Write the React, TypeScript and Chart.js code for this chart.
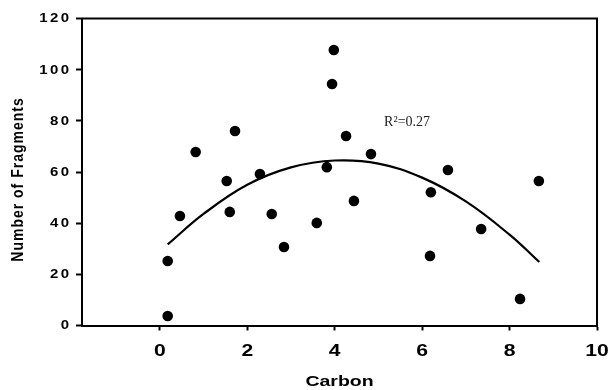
import React, { useEffect, useRef } from "react";
import { Chart, registerables } from "chart.js";

Chart.register(...registerables);

// Observed points (Carbon vs Number of Fragments)
const carbonValues = [0.18, 0.18, 0.46, 0.82, 1.53, 1.6, 1.72, 2.29, 2.56, 2.84, 3.59, 3.82, 3.94, 3.98, 4.26, 4.44, 4.83, 6.2, 6.18, 6.59, 7.35, 8.24, 8.67];
const fragmentValues = [3.7, 25.2, 42.8, 67.8, 56.5, 44.4, 76.0, 59.2, 43.6, 30.7, 40.1, 61.9, 94.4, 107.7, 74.1, 48.7, 67.0, 52.1, 27.2, 60.8, 37.7, 10.4, 56.5];

// Trend curve
const curveX = [0.18, 1, 2, 3, 4, 5, 6, 7, 8, 8.68];
const curveY = [31.7, 43.6, 55.0, 61.8, 64.5, 63.3, 57.8, 48.5, 35.5, 24.8];

const xTicks = [0, 2, 4, 6, 8, 10];
const yTicks = [0, 20, 40, 60, 80, 100, 120];

const xTitle = "Carbon";
const yTitle = "Number of Fragments";
const annotationText = "R\u00B2=0.27";
const annotationPos = { x: 5.13, y: 78 };

const SANS = "'Liberation Sans', Arial, sans-serif";
const SERIF = "'Liberation Serif', 'Times New Roman', serif";

export default function App() {
  const ref = useRef<HTMLCanvasElement | null>(null);

  useEffect(() => {
    if (!ref.current) return;

    const textPlugin = {
      id: "texts",
      afterDraw(chart: any) {
        const ctx = chart.ctx;
        const xs = chart.scales.x;
        const ys = chart.scales.y;
        const { left, top, right, bottom } = chart.chartArea;
        ctx.save();
        ctx.strokeStyle = "#000";
        ctx.lineWidth = 2;
        ctx.beginPath();
        ctx.moveTo(left - 1, top);
        ctx.lineTo(right, top);
        ctx.lineTo(right, bottom);
        ctx.stroke();

        ctx.fillStyle = "#000";

        // x tick labels
        ctx.font = `bold 16px ${SANS}`;
        ctx.textAlign = "center";
        ctx.textBaseline = "middle";
        xTicks.forEach((v) => {
          ctx.save();
          ctx.translate(xs.getPixelForValue(v), bottom + 26.5);
          ctx.scale(1.32, 1);
          ctx.fillText(String(v), 0, 0);
          ctx.restore();
        });

        // y tick labels
        ctx.font = `bold 12.5px ${SANS}`;
        (ctx as any).letterSpacing = "2px";
        ctx.textAlign = "right";
        ctx.textBaseline = "middle";
        yTicks.forEach((v) => {
          ctx.save();
          ctx.translate(left - 13, ys.getPixelForValue(v) + 0.5);
          ctx.scale(1.2, 1);
          ctx.fillText(String(v), 2, 0);
          ctx.restore();
        });
        (ctx as any).letterSpacing = "0px";

        // x title
        ctx.font = `bold 15px ${SANS}`;
        ctx.textAlign = "center";
        ctx.textBaseline = "middle";
        ctx.save();
        ctx.translate((left + right) / 2, 381.5);
        ctx.scale(1.3, 1);
        ctx.fillText(xTitle, 0, 0);
        ctx.restore();

        // y title
        ctx.save();
        ctx.translate(18, 180);
        ctx.rotate(-Math.PI / 2);
        ctx.scale(1, 1.2);
        ctx.font = `bold 14px ${SANS}`;
        (ctx as any).letterSpacing = "1px";
        ctx.fillText(yTitle, 0.5, 0);
        ctx.restore();
        (ctx as any).letterSpacing = "0px";

        // annotation
        ctx.font = `14px ${SERIF}`;
        ctx.textAlign = "left";
        ctx.textBaseline = "alphabetic";
        ctx.fillStyle = "#222";
        ctx.fillText(annotationText, xs.getPixelForValue(annotationPos.x), ys.getPixelForValue(annotationPos.y));
        ctx.restore();
      },
    };

    const chart = new Chart(ref.current, {
      type: "scatter",
      data: {
        datasets: [
          {
            type: "line",
            data: curveX.map((x, i) => ({ x, y: curveY[i] })),
            borderColor: "#000",
            borderWidth: 2.2,
            pointRadius: 0,
            tension: 0.4,
            fill: false,
          } as any,
          {
            data: carbonValues.map((x, i) => ({ x, y: fragmentValues[i] })),
            backgroundColor: "#000",
            borderColor: "#000",
            borderWidth: 0,
            pointRadius: 5.3,
          },
        ],
      },
      options: {
        responsive: false,
        animation: false,
        layout: { padding: { top: 18.5, right: 11, left: 0, bottom: 0 } },
        plugins: { legend: { display: false }, tooltip: { enabled: false } },
        scales: {
          x: {
            type: "linear",
            min: -1.78,
            max: 10,
            afterBuildTicks: (s: any) => {
              s.ticks = xTicks.map((v) => ({ value: v }));
            },
            afterFit: (s: any) => {
              s.height = 64.5;
              s.paddingLeft = 0;
              s.paddingRight = 0;
            },
            grid: { drawOnChartArea: false, tickLength: 5, tickWidth: 2, tickColor: "#000" },
            border: { display: true, color: "#000", width: 2 },
            ticks: { display: false },
          },
          y: {
            type: "linear",
            min: 0,
            max: 120,
            afterBuildTicks: (s: any) => {
              s.ticks = yTicks.map((v) => ({ value: v }));
            },
            afterFit: (s: any) => {
              s.width = 82;
              s.paddingTop = 0;
              s.paddingBottom = 0;
            },
            grid: { drawOnChartArea: false, tickLength: 6, tickWidth: 2, tickColor: "#000" },
            border: { display: true, color: "#000", width: 2 },
            ticks: { display: false },
          },
        },
      },
      plugins: [textPlugin],
    });
    return () => chart.destroy();
  }, []);

  return (
    <div style={{ position: "absolute", left: 0, top: 0, width: 608, height: 390, background: "#fff" }}>
      <canvas ref={ref} width={608} height={390} style={{ display: "block" }} />
    </div>
  );
}
